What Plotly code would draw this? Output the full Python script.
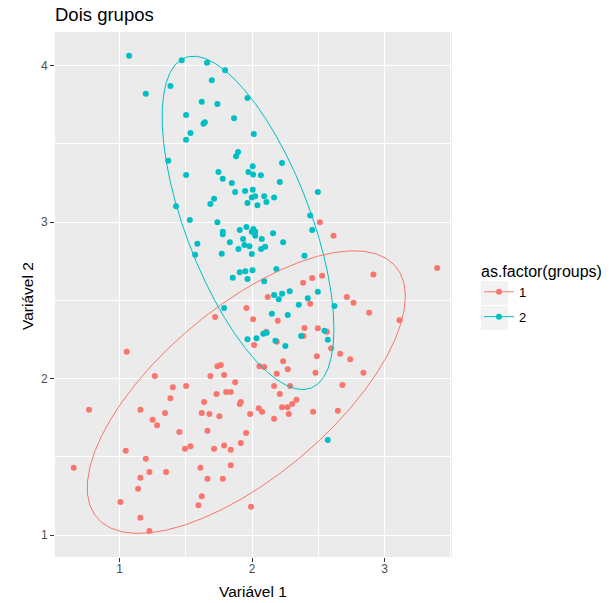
import numpy as np
import plotly.graph_objects as go

# ---- data ----
g1_x = [1.957,1.721,2.008,2.015,1.054,1.738,1.764,1.685,1.789,1.266,1.872,
        2.511,2.614,3.396,2.915,2.528,2.453,2.385,2.118,2.715,2.765,2.438,2.883,3.112,2.194,2.395,2.496,2.564,2.106,2.387,2.186,2.596,2.488,2.664,2.740,2.234,2.055,2.091,2.269,2.186,2.478,2.840,
        2.166,2.287,2.681,2.209,2.334,2.302,2.267,2.226,2.050,2.075,1.985,2.277,2.460,2.647,2.166,1.992,
        1.402,1.502,1.804,1.839,1.731,1.384,1.638,1.915,1.907,0.770,1.157,1.343,1.620,1.678,1.753,1.250,1.283,1.663,1.451,1.955,1.915,1.789,1.494,1.535,1.713,1.839,1.047,1.198,0.654,1.610,1.839,1.225,1.351,1.157,1.663,1.779,1.140,1.620,1.595,1.006,1.157,1.225]
g1_y = [2.452,2.394,2.380,2.215,2.173,2.079,2.087,2.017,2.024,2.017,1.977,
        3.000,2.914,2.707,2.665,2.658,2.643,2.613,2.522,2.522,2.486,2.479,2.422,2.373,2.371,2.324,2.322,2.300,2.300,2.273,2.236,2.194,2.143,2.160,2.124,2.111,2.079,2.075,2.060,2.032,2.038,2.038,
        1.953,1.953,1.960,1.902,1.866,1.838,1.817,1.817,1.811,1.789,1.774,1.774,1.789,1.796,1.744,1.182,
        1.945,1.953,1.915,1.915,1.902,1.875,1.851,1.851,1.838,1.802,1.802,1.781,1.781,1.774,1.760,1.738,1.702,1.668,1.659,1.653,1.589,1.574,1.553,1.568,1.553,1.546,1.540,1.489,1.431,1.431,1.447,1.404,1.404,1.367,1.361,1.361,1.297,1.249,1.191,1.212,1.112,1.027]

g2_x = [1.072,1.469,1.660,1.796,1.696,1.384,1.198,1.965,1.620,1.738,1.502,1.864,1.643,1.633,1.535,1.502,2.013,1.894,1.879,1.368,1.502,1.746,1.779,1.847,1.872,1.947,2.005,1.972,2.008,2.005,1.998,1.965,1.713,1.685,1.426,
        2.226,2.066,2.209,2.496,2.023,2.091,2.166,2.108,2.040,
        1.530,1.738,1.779,1.779,1.907,1.957,1.932,1.832,1.587,1.942,1.980,1.897,1.570,1.771,1.998,2.003,1.907,1.949,1.854,1.965,1.789,1.965,
        2.010,1.998,2.023,2.023,
        2.438,2.453,2.073,2.158,2.234,2.098,2.068,2.395,2.183,2.091,2.166,2.226,2.201,2.284,2.420,2.496,2.352,2.621,2.149,2.269,2.033,2.085,2.110,2.176,2.251,2.370,2.546,2.571,
        2.571]
g2_y = [4.064,4.034,4.019,3.971,3.907,3.870,3.821,3.794,3.770,3.755,3.685,3.664,3.638,3.629,3.570,3.527,3.564,3.449,3.421,3.393,3.302,3.321,3.278,3.250,3.193,3.199,3.357,3.321,3.304,3.208,3.157,3.123,3.150,3.116,3.102,
        3.378,3.300,3.257,3.193,3.165,3.165,3.157,3.129,3.108,
        3.014,3.000,2.939,2.923,2.950,2.969,2.893,2.872,2.863,2.854,2.846,2.829,2.792,2.799,2.797,2.693,2.680,2.686,2.645,2.637,2.452,2.252,
        2.957,2.939,2.939,2.914,
        3.042,2.950,2.893,2.929,2.872,2.843,2.829,2.785,2.701,2.622,2.535,2.543,2.507,2.558,2.514,2.556,2.473,2.465,2.415,2.407,2.258,2.288,2.294,2.243,2.209,2.273,2.307,2.249,
        1.608]

group_names = ["1", "2"]
group_colors = ["#F8766D", "#00BFC4"]


# ---- stat_ellipse (multivariate t, level 0.95), like ggplot2 ----
def cov_trob(x, nu=5, maxit=25, tol=0.01):
    n, p = x.shape
    wt = np.ones(n)
    loc = x.mean(axis=0)
    w = np.sqrt(wt)
    for _ in range(maxit):
        w0 = w
        X = x - loc
        A = np.sqrt(w / w.sum())[:, None] * X
        _, d, vt = np.linalg.svd(A, full_matrices=False)
        wX = X @ vt.T @ np.diag(1 / d)
        Q = (wX ** 2).sum(axis=1)
        w = (wt * (nu + p)) / (nu + Q)
        loc = (w[:, None] * x).sum(axis=0) / w.sum()
        if np.all(np.abs(w - w0) < tol):
            break
    X = x - loc
    cov = (np.sqrt(w)[:, None] * X).T @ (np.sqrt(w)[:, None] * X) / wt.sum()
    return loc, cov


def ellipse(xs, ys, level=0.95, segments=51):
    data = np.column_stack([xs, ys])
    n = len(xs)
    loc, cov = cov_trob(data)
    dfd = n - 1
    fq = dfd / 2 * ((1 - level) ** (-2 / dfd) - 1)
    radius = np.sqrt(2 * fq)
    ang = np.linspace(0, 2 * np.pi, segments + 1)
    circ = np.column_stack([np.cos(ang), np.sin(ang)])
    ch = np.linalg.cholesky(cov).T  # upper triangular like R chol
    pts = loc + radius * (circ @ ch)
    return pts[:, 0], pts[:, 1]


fig = go.Figure()
groups = [(g1_x, g1_y), (g2_x, g2_y)]
for (gx, gy), name, col in zip(groups, group_names, group_colors):
    fig.add_trace(go.Scatter(x=gx, y=gy, mode="markers", showlegend=False,
                             marker=dict(color=col, size=6, line=dict(width=0)),
                             hoverinfo="skip"))
for (gx, gy), name, col in zip(groups, group_names, group_colors):
    ex, ey = ellipse(gx, gy)
    fig.add_trace(go.Scatter(x=ex, y=ey, mode="lines", showlegend=False,
                             line=dict(color=col, width=1), hoverinfo="skip"))
for name, col in zip(group_names, group_colors):
    fig.add_trace(go.Scatter(x=[None], y=[None], mode="lines+markers", name=name,
                             legendgroup=name,
                             line=dict(color=col, width=1),
                             marker=dict(color=col, size=6)))

font_family = "Liberation Sans, Arial, sans-serif"
axis_common = dict(
    automargin=False,
    showgrid=True, gridcolor="white", gridwidth=1.2,
    zeroline=False, showline=False,
    ticks="outside", ticklen=4, tickcolor="#333333", tickwidth=1,
    tickfont=dict(size=12, color="#4D4D4D", family=font_family),
    minor=dict(showgrid=True, gridcolor="white", gridwidth=0.6, dtick=0.5, tick0=0),
    dtick=1, tick0=0,
)

W, H = 614, 603
L, T = 55, 32
R, B = W - 452, H - 557
pw, ph = W - L - R, H - T - B


def px_x(p):  # page px -> paper x
    return (p - L) / pw


def px_y(p):  # page px -> paper y
    return (H - B - p) / ph


key_shapes = []
for yc in (293, 318):
    key_shapes.append(dict(type="rect", xref="paper", yref="paper",
                           x0=px_x(481), x1=px_x(508), y0=px_y(yc + 12), y1=px_y(yc - 12),
                           fillcolor="#F2F2F2", line=dict(width=0), layer="below"))

fig.update_layout(
    width=W, height=H,
    margin=dict(l=L, r=R, t=T, b=B, autoexpand=False),
    paper_bgcolor="white", plot_bgcolor="#EBEBEB",
    font=dict(family=font_family, color="black"),
    title=dict(text="Dois grupos", x=L / W, xanchor="left", y=1 - 15 / H,
               yanchor="middle", font=dict(size=18.5, color="black")),
    xaxis=dict(range=[0.513, 3.508], ticklabelstandoff=-3, **axis_common),
    yaxis=dict(range=[0.861, 4.215], **axis_common),
    legend=dict(title=dict(text="as.factor(groups)", font=dict(size=16, color="black")),
                x=px_x(479), xanchor="left", y=px_y(256), yanchor="top",
                font=dict(size=13, color="black"), bgcolor="rgba(0,0,0,0)",
                itemwidth=30, tracegroupgap=5),
    shapes=key_shapes,
    annotations=[
        dict(text="Variável 1", xref="paper", yref="paper", x=px_x(253), y=px_y(591),
             xanchor="center", yanchor="middle", showarrow=False, font=dict(size=15.5)),
        dict(text="Variável 2", xref="paper", yref="paper", x=px_x(27), y=px_y(296),
             xanchor="center", yanchor="middle", showarrow=False, textangle=-90,
             font=dict(size=15.5)),
    ],
)

fig.write_html("out.html", config={"displayModeBar": False},
               post_script="document.body.style.margin='0';")
